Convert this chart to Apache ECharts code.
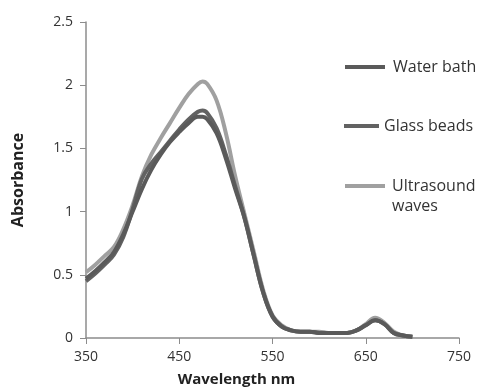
<!DOCTYPE html>
<html>
<head>
<meta charset="utf-8">
<script src="https://cdn.jsdelivr.net/npm/echarts@6/dist/echarts.min.js"></script>
<style>
  html, body { margin: 0; padding: 0; background: #fff; }
  #chart { width: 484px; height: 387px; }
</style>
</head>
<body>
<div id="chart"></div>
<script>
// Wavelengths (nm) of the sampled spectra
const wavelengths = [350, 360, 370, 380, 390, 400, 410, 420, 430, 440, 450, 460, 470, 475, 480, 490, 500, 510, 520, 530, 540, 550, 560, 570, 580, 590, 600, 610, 620, 630, 640, 650, 660, 670, 680, 690, 700];

// Absorbance per extraction method
const waterBath = [0.47, 0.53, 0.60, 0.68, 0.82, 1.00, 1.18, 1.33, 1.45, 1.55, 1.63, 1.70, 1.75, 1.75, 1.73, 1.62, 1.42, 1.18, 0.95, 0.65, 0.36, 0.17, 0.09, 0.06, 0.05, 0.05, 0.04, 0.04, 0.04, 0.04, 0.06, 0.10, 0.14, 0.11, 0.04, 0.02, 0.01];
const glassBeads = [0.45, 0.51, 0.58, 0.66, 0.80, 1.02, 1.26, 1.38, 1.47, 1.56, 1.65, 1.73, 1.79, 1.80, 1.78, 1.66, 1.45, 1.20, 0.95, 0.65, 0.36, 0.17, 0.09, 0.06, 0.05, 0.05, 0.04, 0.04, 0.04, 0.04, 0.06, 0.10, 0.14, 0.11, 0.04, 0.02, 0.01];
const ultrasound = [0.52, 0.58, 0.65, 0.72, 0.86, 1.05, 1.28, 1.45, 1.58, 1.70, 1.82, 1.93, 2.01, 2.03, 2.01, 1.88, 1.62, 1.28, 0.98, 0.68, 0.38, 0.18, 0.10, 0.06, 0.05, 0.05, 0.05, 0.04, 0.04, 0.04, 0.06, 0.11, 0.16, 0.12, 0.05, 0.02, 0.01];

const seriesNames = ['Water bath', 'Glass beads', 'Ultrasound\nwaves'];
const seriesColors = ['#5a5a5a', '#626262', '#a0a0a0'];
const xTicks = { min: 350, max: 750, step: 100 };
const yTicks = { min: 0, max: 2.5, step: 0.5 };

const pairs = (ys) => wavelengths.map((x, i) => [x, ys[i]]);
const allSeries = [waterBath, glassBeads, ultrasound];

const chart = echarts.init(document.getElementById('chart'), null, { renderer: 'canvas' });
const axisGrey = '#8c8c8c';
const fontFam = '"Open Sans", "DejaVu Sans", sans-serif';

// One legend block per series so each entry sits at its own height.
// A two-line label gets a blank leading line so its first line stays level with the swatch.
const legendBox = (name, left, top, width, textPad) => ({
  orient: 'vertical',
  left: left,
  top: top,
  padding: 0,
  itemWidth: width,
  itemHeight: 4,
  icon: 'rect',
  formatter: (n) => (n.indexOf('\n') >= 0 ? '\n' + n : n),
  textStyle: { fontFamily: fontFam, fontSize: 16, color: '#333', lineHeight: 20, padding: textPad },
  data: [name]
});

chart.setOption({
  animation: false,
  backgroundColor: '#ffffff',
  grid: { left: 86, right: 25, top: 22, bottom: 49, outerBoundsMode: 'none' },
  legend: [
    legendBox(seriesNames[0], 345, 57, 40, [0, 0, 0, 3]),
    legendBox(seriesNames[1], 344, 116, 35, [0, 0, 0, 0]),
    legendBox(seriesNames[2], 345, 156, 40, [0, 0, 0, 2])
  ],
  xAxis: {
    type: 'value',
    min: xTicks.min, max: xTicks.max, interval: xTicks.step,
    name: 'Wavelength nm',
    nameLocation: 'middle',
    nameGap: 34,
    nameTextStyle: { fontFamily: fontFam, fontSize: 15, fontWeight: 'bold', color: '#222', padding: [0, 72, 0, 0] },
    axisLine: { lineStyle: { color: axisGrey, width: 1.5 } },
    axisTick: { show: true, length: 6, lineStyle: { color: axisGrey } },
    axisLabel: { fontFamily: fontFam, fontSize: 14, color: '#333', margin: 12 },
    splitLine: { show: false }
  },
  yAxis: {
    type: 'value',
    min: yTicks.min, max: yTicks.max, interval: yTicks.step,
    name: 'Absorbance',
    nameLocation: 'middle',
    nameGap: 60,
    nameRotate: 90,
    nameTextStyle: { fontFamily: fontFam, fontSize: 16, fontWeight: 'bold', color: '#222' },
    axisLine: { show: true, lineStyle: { color: axisGrey, width: 1.5 } },
    axisTick: { show: true, length: 6, lineStyle: { color: axisGrey } },
    axisLabel: { fontFamily: fontFam, fontSize: 14, color: '#333', margin: 13 },
    splitLine: { show: false }
  },
  series: allSeries.map((ys, i) => ({
    name: seriesNames[i],
    type: 'line',
    smooth: 0.4,
    showSymbol: false,
    data: pairs(ys),
    lineStyle: { color: seriesColors[i], width: 4 },
    itemStyle: { color: seriesColors[i] },
    z: i === 2 ? 1 : 3 - i
  }))
});
</script>
</body>
</html>
